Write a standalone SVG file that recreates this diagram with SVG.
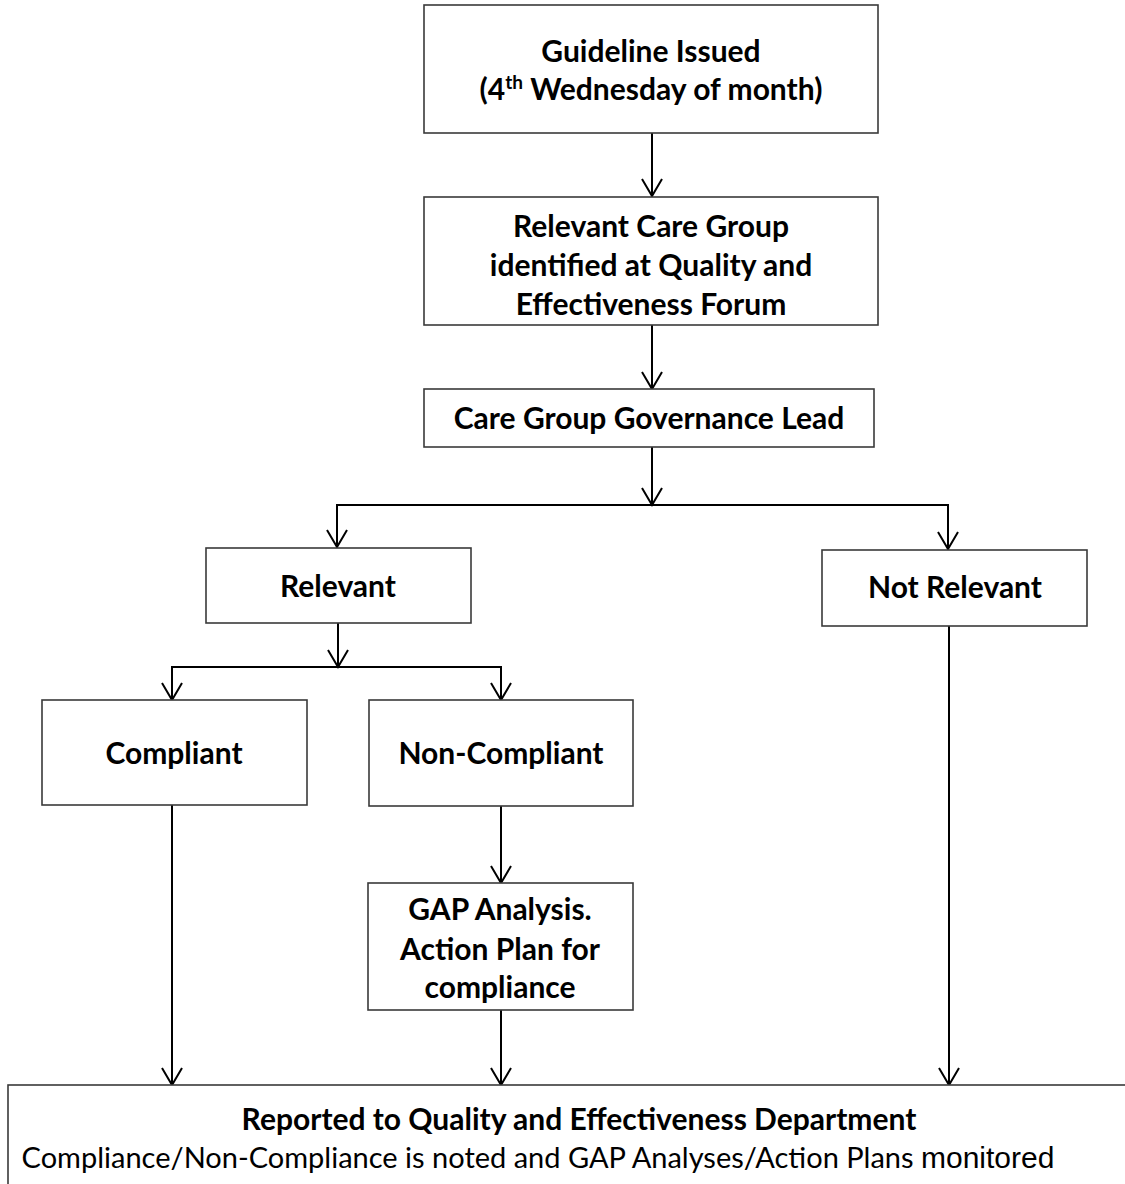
<svg xmlns="http://www.w3.org/2000/svg" width="1125" height="1184" viewBox="0 0 1125 1184">
<style>
.box{fill:#fff;stroke:#3a3a3a;stroke-width:1.6}
.t{font-family:Lato,"Open Sans",sans-serif;font-weight:bold;font-size:30px;fill:#000;text-anchor:middle}
.r{font-family:Lato,"Open Sans",sans-serif;font-weight:normal;font-size:29px;fill:#000;text-anchor:middle}
.c{fill:none;stroke:#000;stroke-width:2}
</style>
<defs>
<marker id="ah" markerUnits="userSpaceOnUse" markerWidth="40" markerHeight="40" viewBox="-20 -20 40 40" refX="0" refY="0" orient="auto">
<path d="M-17,-10 L0,0 L-17,10" fill="none" stroke="#000" stroke-width="2"/>
</marker>
</defs>
<rect width="1125" height="1184" fill="#fff"/>
<g id="connectors">
<line class="c" x1="652" y1="133" x2="652" y2="196" marker-end="url(#ah)"/>
<line class="c" x1="652" y1="325" x2="652" y2="389" marker-end="url(#ah)"/>
<line class="c" x1="652" y1="447" x2="652" y2="505" marker-end="url(#ah)"/>
<polyline class="c" points="337,547 337,505 948,505 948,549"/>
<line class="c" x1="337" y1="505" x2="337" y2="547" marker-end="url(#ah)"/>
<line class="c" x1="948" y1="505" x2="948" y2="549" marker-end="url(#ah)"/>
<line class="c" x1="338" y1="623" x2="338" y2="667" marker-end="url(#ah)"/>
<polyline class="c" points="172,700 172,667 501,667 501,700"/>
<line class="c" x1="172" y1="667" x2="172" y2="700" marker-end="url(#ah)"/>
<line class="c" x1="501" y1="667" x2="501" y2="700" marker-end="url(#ah)"/>
<line class="c" x1="501" y1="806" x2="501" y2="883" marker-end="url(#ah)"/>
<line class="c" x1="172" y1="805" x2="172" y2="1085" marker-end="url(#ah)"/>
<line class="c" x1="501" y1="1010" x2="501" y2="1085" marker-end="url(#ah)"/>
<line class="c" x1="949" y1="626" x2="949" y2="1085" marker-end="url(#ah)"/>
</g>
<g id="n1">
<rect class="box" x="424" y="5" width="454" height="128"/>
<text class="t" x="651" y="62">Guideline Issued</text>
<text class="t" x="651" y="100">(4<tspan font-size="19" dy="-11">th</tspan><tspan dy="11"> Wednesday of month)</tspan></text>
</g>
<g id="n2">
<rect class="box" x="424" y="197" width="454" height="128"/>
<text class="t" x="651" y="237">Relevant Care Group</text>
<text class="t" x="651" y="276">identified at Quality and</text>
<text class="t" x="651" y="315">Effectiveness Forum</text>
</g>
<g id="n3">
<rect class="box" x="424" y="389" width="450" height="58"/>
<text class="t" x="649" y="429">Care Group Governance Lead</text>
</g>
<g id="n4">
<rect class="box" x="206" y="548" width="265" height="75"/>
<text class="t" x="338" y="597">Relevant</text>
</g>
<g id="n5">
<rect class="box" x="822" y="550" width="265" height="76"/>
<text class="t" x="955" y="598">Not Relevant</text>
</g>
<g id="n6">
<rect class="box" x="42" y="700" width="265" height="105"/>
<text class="t" x="174" y="764">Compliant</text>
</g>
<g id="n7">
<rect class="box" x="369" y="700" width="264" height="106"/>
<text class="t" x="501" y="764">Non-Compliant</text>
</g>
<g id="n8">
<rect class="box" x="368" y="883" width="265" height="127"/>
<text class="t" x="500" y="920">GAP Analysis.</text>
<text class="t" x="500" y="960">Action Plan for</text>
<text class="t" x="500" y="998">compliance</text>
</g>
<g id="n9">
<rect class="box" x="8" y="1085" width="1140" height="140"/>
<text class="t" x="579" y="1130">Reported to Quality and Effectiveness Department</text>
<text class="r" x="538" y="1168">Compliance/Non-Compliance is noted and GAP Analyses/Action Plans <tspan font-family="'Liberation Sans',Arial,sans-serif" font-size="30">monitored</tspan></text>
</g>
</svg>
